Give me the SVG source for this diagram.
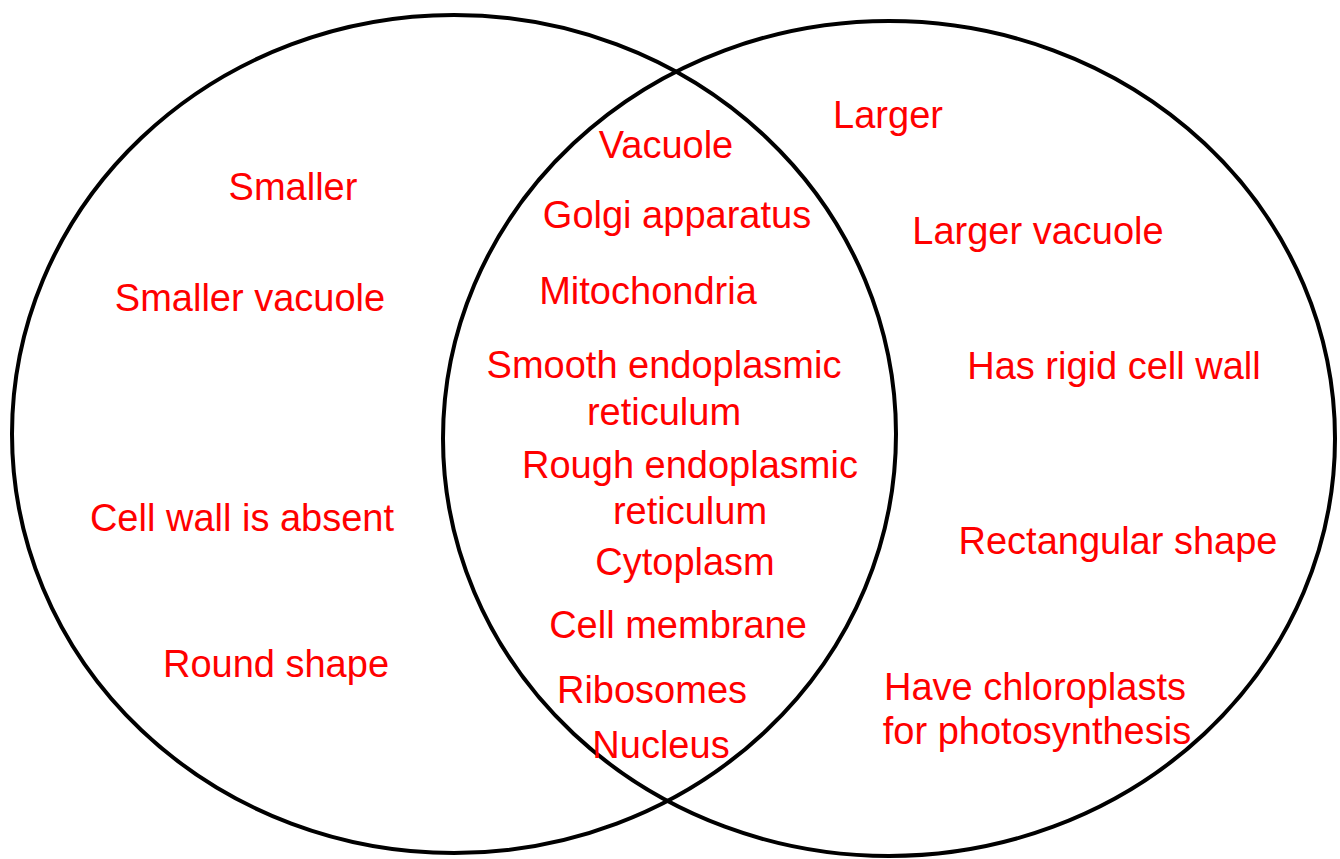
<svg xmlns="http://www.w3.org/2000/svg" width="1340" height="859" viewBox="0 0 1340 859">
<style>
.c{fill:none;stroke:#000;stroke-width:4}
.t{fill:#ff0000;font-family:"Liberation Sans",Arial,sans-serif;font-size:38px;text-anchor:middle}
</style>
<rect width="1340" height="859" fill="#fff"/>
<g id="circles">
<ellipse id="left-circle" class="c" cx="454" cy="434" rx="442" ry="419"/>
<ellipse id="right-circle" class="c" cx="889" cy="438.5" rx="446" ry="417.5"/>
</g>
<g id="left-texts">
<text class="t" x="293" y="200">Smaller</text>
<text class="t" x="250" y="311">Smaller vacuole</text>
<text class="t" x="242" y="531">Cell wall is absent</text>
<text class="t" x="276" y="677">Round shape</text>
</g>
<g id="middle-texts">
<text class="t" x="666" y="158">Vacuole</text>
<text class="t" x="677" y="228">Golgi apparatus</text>
<text class="t" x="648" y="304">Mitochondria</text>
<text class="t" x="664" y="378">Smooth endoplasmic</text>
<text class="t" x="664" y="425">reticulum</text>
<text class="t" x="690" y="478">Rough endoplasmic</text>
<text class="t" x="690" y="524">reticulum</text>
<text class="t" x="685" y="575">Cytoplasm</text>
<text class="t" x="678" y="638">Cell membrane</text>
<text class="t" x="652" y="703">Ribosomes</text>
<text class="t" x="661" y="758">Nucleus</text>
</g>
<g id="right-texts">
<text class="t" x="888" y="128">Larger</text>
<text class="t" x="1038" y="244">Larger vacuole</text>
<text class="t" x="1114" y="379">Has rigid cell wall</text>
<text class="t" x="1118" y="554">Rectangular shape</text>
<text class="t" x="1035" y="700">Have chloroplasts</text>
<text class="t" x="1037" y="744">for photosynthesis</text>
</g>
</svg>
